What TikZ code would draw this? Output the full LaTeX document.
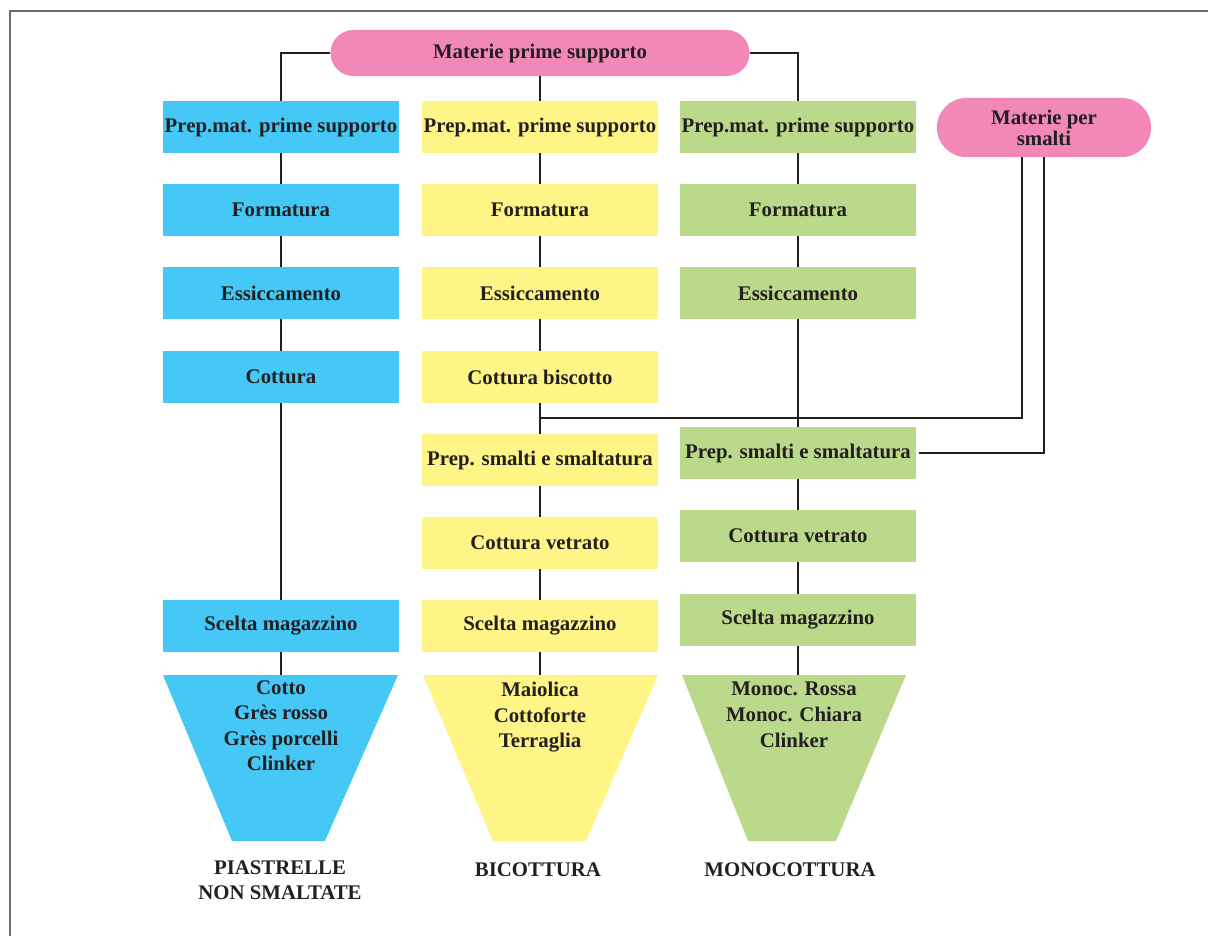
\documentclass[tikz,border=0pt]{standalone}
\usepackage{fontspec}
\setmainfont{Liberation Serif}
\usetikzlibrary{calc}

\definecolor{tileblue}{HTML}{45C8F5}
\definecolor{tileyellow}{HTML}{FFF587}
\definecolor{tilegreen}{HTML}{BBD98A}
\definecolor{rawpink}{HTML}{F288B8}
\definecolor{inkdark}{HTML}{231F20}
\definecolor{framegray}{HTML}{6D6D6D}

\tikzset{
    stepbox/.style={
        rectangle, inner sep=0pt,
        minimum width=5.9cm, minimum height=1.3cm,
        text=inkdark
    },
    rawpill/.style={
        rectangle, fill=rawpink, inner sep=0pt,
        text=inkdark, align=center
    },
    productlist/.style={
        anchor=north, inner sep=0pt, align=center, text=inkdark
    },
    linklabel/.style={
        inner sep=0pt, align=center, text=inkdark
    },
    flowline/.style={draw=inkdark, line width=1.6pt}
}

\begin{document}
\begin{tikzpicture}[
            x=0.025cm, y=-0.025cm,
            font=\fontsize{14.8}{18.2}\selectfont\bfseries
        ]
        \useasboundingbox (0,0) rectangle (1208,935);
        \draw[framegray, line width=1.1pt] (10,940) -- (10,11) -- (1215,11);

        % raw materials
        \node[rawpill, minimum width=10.475cm, minimum height=1.15cm,
            rounded corners=0.575cm] (mps) at (540,53) {Materie prime supporto};
        \node[rawpill, minimum width=5.35cm, minimum height=1.475cm,
            rounded corners=0.73cm, font=\fontsize{14.8}{15}\selectfont\bfseries]
            (mpsm) at (1044,127.5) {Materie per\\smalti};

        % common first steps of the three lines
        \foreach \col/\x/\clr in {p/281/tileblue, b/540/tileyellow, m/798/tilegreen} {
            \node[stepbox, fill=\clr] (\col1) at (\x,127) {Prep.mat. prime supporto};
            \node[stepbox, fill=\clr] (\col2) at (\x,210) {Formatura};
            \node[stepbox, fill=\clr] (\col3) at (\x,293) {Essiccamento};
        }

        % piastrelle non smaltate
        \node[stepbox, fill=tileblue] (p4) at (281,377) {Cottura};
        \node[stepbox, fill=tileblue] (p5) at (281,626) {Scelta magazzino};

        % bicottura
        \node[stepbox, fill=tileyellow] (b4) at (540,377) {Cottura biscotto};
        \node[stepbox, fill=tileyellow] (b5) at (540,460) {Prep. smalti e smaltatura};
        \node[stepbox, fill=tileyellow] (b6) at (540,543) {Cottura vetrato};
        \node[stepbox, fill=tileyellow] (b7) at (540,626) {Scelta magazzino};

        % monocottura
        \node[stepbox, fill=tilegreen] (m4) at (798,453) {Prep. smalti e smaltatura};
        \node[stepbox, fill=tilegreen] (m5) at (798,536) {Cottura vetrato};
        \node[stepbox, fill=tilegreen] (m6) at (798,620) {Scelta magazzino};

        % products
        \fill[tileblue] (163,675) -- (398,675) -- (325,841) -- (232,841) -- cycle;
        \fill[tileyellow] (423,675) -- (658,675) -- (586,841) -- (493,841) -- cycle;
        \fill[tilegreen] (682,675) -- (906,675) -- (836,841) -- (748,841) -- cycle;
        \coordinate (ptop) at (281,675);
        \coordinate (btop) at (540,675);
        \coordinate (mtop) at (798,675);
        \node[productlist] (plist) at (281,680) {Cotto\\Grès rosso\\Grès porcelli\\Clinker};
        \node[productlist] (blist) at (540,682) {Maiolica\\Cottoforte\\Terraglia};
        \node[productlist] (mlist) at (794,682) {Monoc. Rossa\\Monoc. Chiara\\Clinker};

        \node[linklabel] (pname) at (280,880) {PIASTRELLE\\NON SMALTATE};
        \node[linklabel] (bname) at (538,870) {BICOTTURA};
        \node[linklabel] (mname) at (790,870) {MONOCOTTURA};

        % connectors
        \draw[flowline] (mps.west) -| (p1.north);
        \draw[flowline] (mps.east) -| (m1.north);
        \draw[flowline] (mps.south) -- (b1.north);

        \foreach \a/\b in {p1/p2, p2/p3, p3/p4, p4/p5, b1/b2, b2/b3, b3/b4,
                b4/b5, b5/b6, b6/b7, m1/m2, m2/m3, m3/m4, m4/m5, m5/m6} {
            \draw[flowline] (\a.south) -- (\b.north);
        }
        \draw[flowline] (p5.south) -- (ptop);
        \draw[flowline] (b7.south) -- (btop);
        \draw[flowline] (m6.south) -- (mtop);

        \coordinate (glazeb) at (1022,418);
        \coordinate (glazem) at (1044,453);
        \draw[flowline] (mpsm.south -| glazeb) -- (glazeb) -- (glazeb -| b4.south);
        \draw[flowline] (mpsm.south -| glazem) -- (glazem) -- ([xshift=2pt]m4.east);
\end{tikzpicture}
\end{document}
